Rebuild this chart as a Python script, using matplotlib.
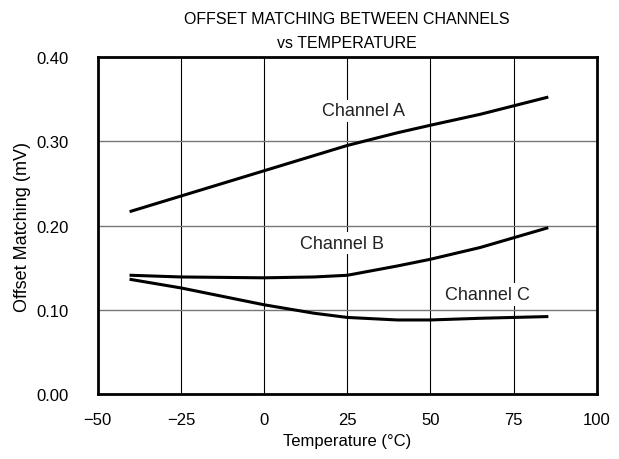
import matplotlib.pyplot as plt

plt.rcParams['font.family'] = ['Liberation Sans', 'DejaVu Sans']

# temperatures (C) and offset matching (mV)
temp = [-40, -25, 0, 15, 25, 40, 50, 65, 85]
chan_a = [0.217, 0.235, 0.265, 0.283, 0.295, 0.310, 0.319, 0.332, 0.352]
chan_b = [0.141, 0.139, 0.138, 0.139, 0.141, 0.152, 0.160, 0.174, 0.197]
chan_c = [0.136, 0.126, 0.106, 0.096, 0.091, 0.088, 0.088, 0.090, 0.092]

labels = ['Channel A', 'Channel B', 'Channel C']
label_pos = [(30, 0.336), (23.5, 0.179), (67, 0.118)]

xticks = [-50, -25, 0, 25, 50, 75, 100]
xticklabels = ['\u221250', '\u221225', '0', '25', '50', '75', '100']
yticks = [0.0, 0.1, 0.2, 0.3, 0.4]

fig = plt.figure(figsize=(6.19, 4.6), dpi=100)
ax = fig.add_axes([0.158, 0.141, 0.806, 0.733])

for x in xticks[1:-1]:
    ax.axvline(x, color='black', lw=0.8, zorder=1)
for y in yticks[1:-1]:
    ax.axhline(y, color='#777777', lw=1.0, zorder=1)

for series in (chan_a, chan_b, chan_c):
    ax.plot(temp, series, color='black', lw=2.2, zorder=3)

for text, (x, y) in zip(labels, label_pos):
    ax.text(x, y, text, ha='center', va='center', fontsize=13,
            color='#222222', zorder=2,
            bbox=dict(facecolor='white', edgecolor='none', pad=2))

ax.set_xlim(-50, 100)
ax.set_ylim(0, 0.4)
ax.set_xticks(xticks)
ax.set_xticklabels(xticklabels)
ax.set_yticks(yticks)
ax.set_yticklabels(['%.2f' % v for v in yticks])
ax.tick_params(length=0, labelsize=12)
ax.tick_params(axis='x', pad=13)
ax.tick_params(axis='y', pad=21)
for s in ax.spines.values():
    s.set_linewidth(2.0)

ax.set_xlabel('Temperature (\u00b0C)', fontsize=12, labelpad=4)
ax.set_ylabel('Offset Matching (mV)', fontsize=13, labelpad=4)
ax.set_title('OFFSET MATCHING BETWEEN CHANNELS\nvs TEMPERATURE',
             fontsize=11.5, linespacing=1.8, pad=7)

fig.savefig('out.png', dpi=100)
